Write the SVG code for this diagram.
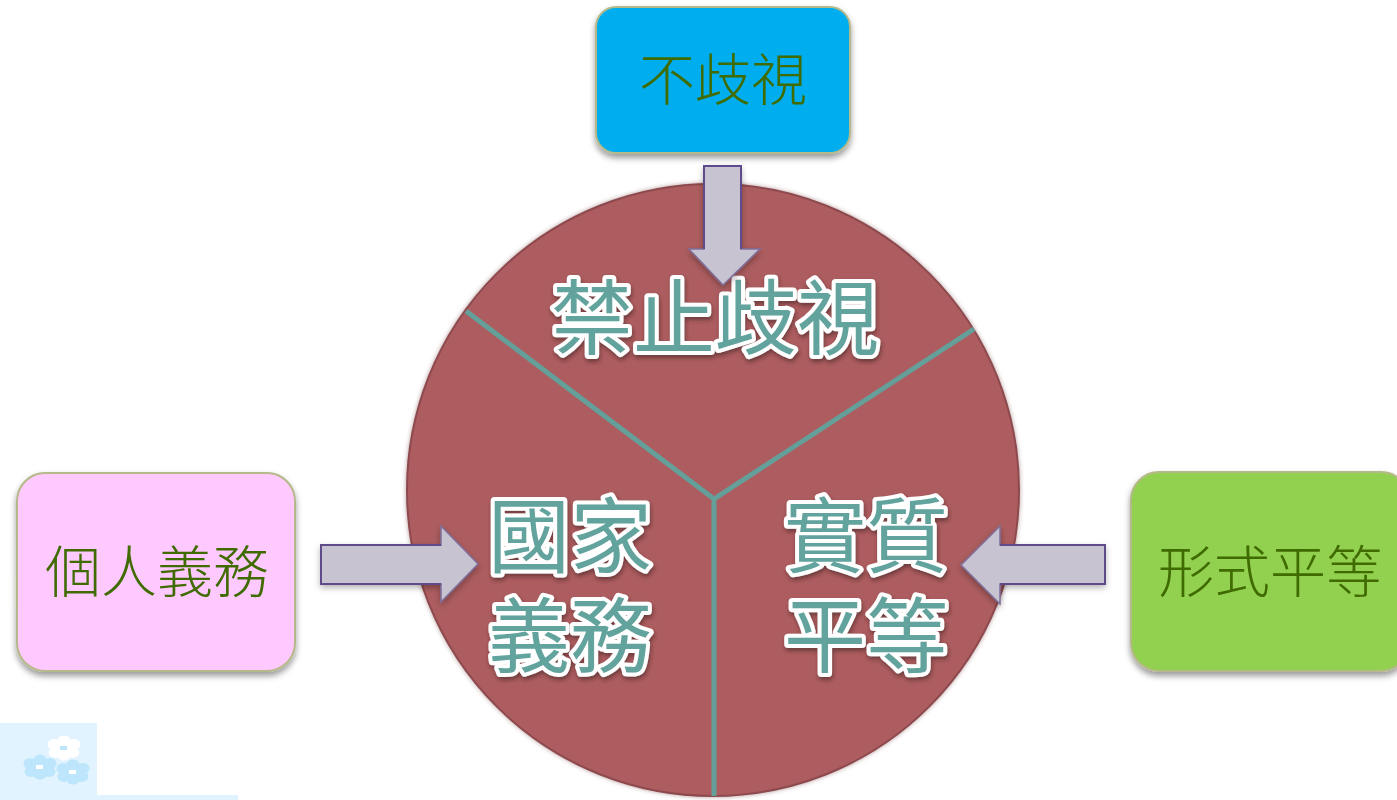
<svg xmlns="http://www.w3.org/2000/svg" width="1397" height="800" viewBox="0 0 1397 800">
<style>
.box{stroke:#b5b98a;stroke-width:2;filter:url(#shadow)}
.lbl{font-family:"Noto Sans CJK TC","Noto Sans CJK SC",sans-serif;font-size:56px;font-weight:300;fill:#3f6b00;text-anchor:middle}
.big{font-family:"Noto Sans CJK TC","Noto Sans CJK SC",sans-serif;font-size:82px;font-weight:400;text-anchor:middle;fill:#62a39d;stroke:#fff;stroke-width:8px;stroke-linejoin:round;paint-order:stroke;filter:url(#tshadow)}
.arrow{fill:#c8c3d0;stroke:#7d6f9c;stroke-width:1.5;filter:url(#ashadow)}
.edge{fill:none;stroke:#5f4a8b;stroke-width:2}
.div{stroke:#649f9a;stroke-width:5;fill:none}
.fl{fill:#bde5fb}
.flw{fill:#fff}
</style>
<defs>
<filter id="shadow" x="-10%" y="-10%" width="120%" height="125%"><feDropShadow dx="0" dy="4" stdDeviation="3" flood-color="#000" flood-opacity=".4"/></filter>
<filter id="ashadow" x="-15%" y="-15%" width="130%" height="130%"><feDropShadow dx="0" dy="3" stdDeviation="3" flood-color="#000" flood-opacity=".3"/></filter>
<filter id="tshadow" x="-10%" y="-10%" width="120%" height="130%"><feDropShadow dx="1" dy="3" stdDeviation="2" flood-color="#3a1a1a" flood-opacity=".55"/></filter>
<filter id="cshadow" x="-5%" y="-5%" width="110%" height="110%"><feDropShadow dx="0" dy="0" stdDeviation="2" flood-color="#6b2f33" flood-opacity=".5"/></filter>
<g id="flower"><circle cx="0" cy="-8" r="6"/><circle cx="9" cy="-4" r="6"/><circle cx="8" cy="5" r="6"/><circle cx="0" cy="8" r="6"/><circle cx="-8" cy="5" r="6"/><circle cx="-9" cy="-4" r="6"/><circle r="8"/></g>
</defs>
<g id="decor">
<rect x="0" y="723" width="97" height="77" fill="#e1f3fe"/>
<rect x="97" y="795" width="141" height="5" fill="#e1f3fe"/>
<use href="#flower" class="fl" transform="translate(40 767) scale(1.1 .9)"/>
<rect x="36" y="765" width="7" height="4" class="flw"/>
<use href="#flower" class="fl" transform="translate(73 772) scale(1.1 .9)"/>
<rect x="69" y="770" width="7" height="4" class="flw"/>
<use href="#flower" class="flw" transform="translate(64 748) scale(1.1 .9)"/>
<rect x="60" y="746" width="7" height="4" class="fl"/>
</g>
<g id="circle">
<circle cx="713" cy="490" r="306" fill="#ad5d5f" stroke="#8d4a4e" stroke-width="2" filter="url(#cshadow)"/>
</g>
<g id="dividers">
<path class="div" d="M466 311L714 499L974 329M714 499L714 796"/>
</g>
<g id="segment-top">
<text class="big" x="715" y="348">禁止歧視</text>
</g>
<g id="segment-left">
<text class="big" x="570" y="566">國家</text>
<text class="big" x="570" y="666">義務</text>
</g>
<g id="segment-right">
<text class="big" x="866" y="566">實質</text>
<text class="big" x="866" y="666">平等</text>
</g>
<g id="connectors">
<g id="arrow-top"><path class="arrow" d="M704 166H741V249H760L723 285L689 249H704Z"/><path class="edge" d="M704 249V166H741V249"/></g>
<g id="arrow-left"><path class="arrow" d="M321 545H441V526L478 564L441 602V584H321Z"/><path class="edge" d="M441 545H321V584H441"/></g>
<g id="arrow-right"><path class="arrow" d="M1105 545H1000V526L961 565L1000 604V584H1105Z"/><path class="edge" d="M1000 545H1105V584H1000"/></g>
</g>
<g id="node-top">
<rect class="box" x="596" y="7" width="254" height="146" rx="20" fill="#00aeef"/>
<text class="lbl" x="723" y="100">不歧視</text>
</g>
<g id="node-left">
<rect class="box" x="17" y="473" width="278" height="198" rx="28" fill="#fec9ff"/>
<text class="lbl" x="157" y="592">個人義務</text>
</g>
<g id="node-right">
<rect class="box" x="1131" y="472" width="278" height="199" rx="28" fill="#92d050"/>
<text class="lbl" x="1270" y="592">形式平等</text>
</g>
</svg>
